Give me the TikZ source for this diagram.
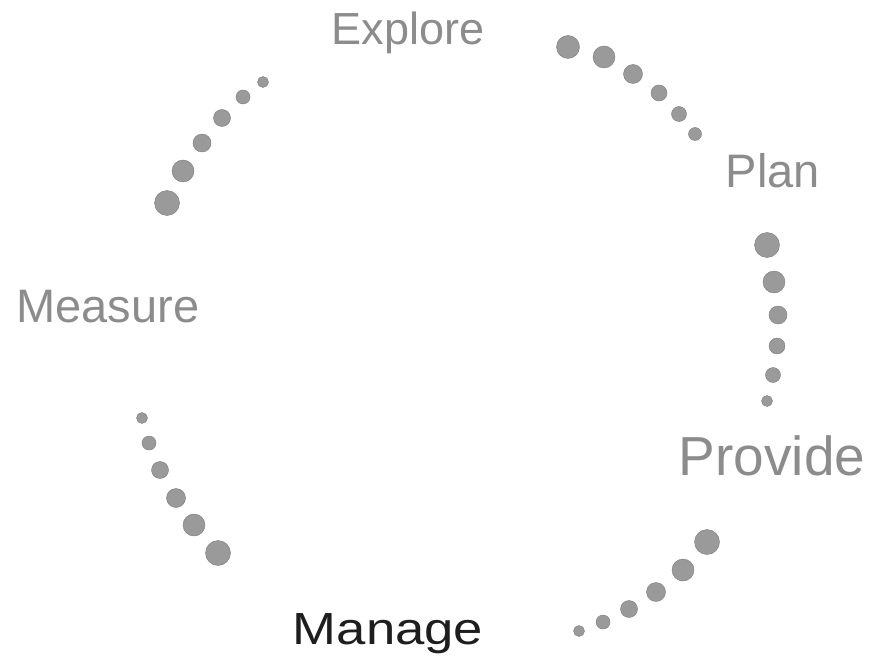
\documentclass[tikz,border=0pt]{standalone}
\usepackage{fontspec}
\setmainfont{Liberation Sans}
\usepackage{tikz}

\definecolor{dotgray}{HTML}{9A9A9A}
\definecolor{labelgray}{HTML}{8C8C8C}
\definecolor{labeldark}{HTML}{1E1E1E}

\begin{document}
\begin{tikzpicture}[x=1pt, y=-1pt,
        phase/.style={inner sep=0pt, anchor=base, text=labelgray, font=\fontsize{45}{54}\selectfont},
        dot/.style={fill=dotgray, draw=dotgray!80!black, line width=0.4pt}]
        \useasboundingbox (0, 0) rectangle (869, 663);

        \node[phase] (explore) at (408, 45) {Explore};
        \node[phase, font=\fontsize{47}{56}\selectfont] (plan) at (773, 187) {Plan};
        \node[phase, font=\fontsize{55}{66}\selectfont] (provide) at (772, 475) {Provide};
        \node[phase, text=labeldark, xscale=1.17] (manage) at (388, 644) {Manage};
        \node[phase, font=\fontsize{47}{56}\selectfont] (measure) at (108, 322) {Measure};

        % dots between the phases
        \foreach \x/\y/\r in {568/47/11.5, 604/57/11, 633/74/9.5, 659/93/8, 679/114/7.5, 695/134/6.5,
                767/245/12.5, 774/282/11, 778/315/9, 777/346/8, 773/375/7.5, 767/401/5.5,
                707/542/12.5, 683/570/11, 656/592/9.5, 629/609/8.5, 603/622/7, 579/631/5.5,
                142/418/5.5, 149/443/7, 160/470/8.5, 176/498/9.5, 194/525/11, 218/553/12.5,
                263/82/5.5, 243/97/7, 222/118/8.5, 202/143/9, 183/171/11, 167/203/12.5}
            \filldraw[dot] (\x, \y) circle (\r);
    \end{tikzpicture}
\end{document}
